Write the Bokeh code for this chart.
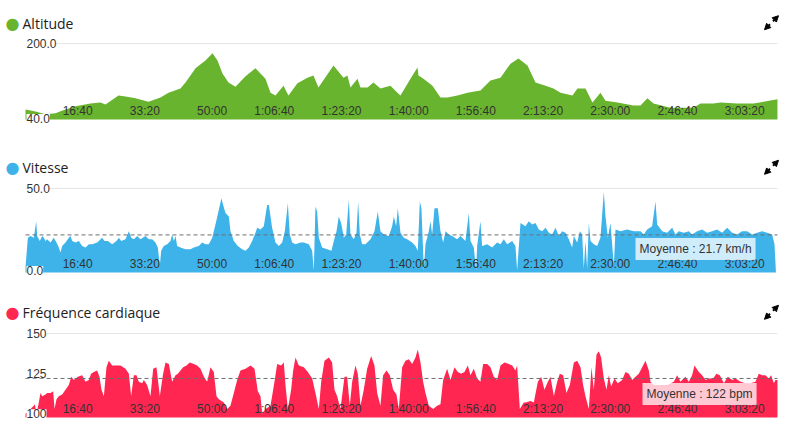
from bokeh.plotting import figure
from bokeh.models import Range1d, Label, LabelSet, ColumnDataSource, Arrow, NormalHead
from bokeh.layouts import column
from bokeh.embed import file_html
from bokeh.resources import INLINE
from bokeh.core.properties import value

# ---------------- data ----------------
T_END = 11190  # seconds
tick_seconds = [1000, 2000, 3000, 4000, 5000, 6000, 7000, 8000, 9000, 10000, 11000]
tick_labels = ["16:40", "33:20", "50:00", "1:06:40", "1:23:20", "1:40:00",
               "1:56:40", "2:13:20", "2:30:00", "2:46:40", "3:03:20"]

alt_t = [0, 149, 298, 446, 551, 744, 967, 1116, 1190, 1384,
         1488, 1637, 1830, 2009, 2128, 2306, 2381, 2530, 2678, 2783,
         2857, 2931, 3021, 3125, 3274, 3422, 3571, 3646, 3720, 3839,
         3913, 4047, 4196, 4285, 4360, 4583, 4732, 4791, 4836, 4940,
         4985, 5089, 5178, 5282, 5431, 5535, 5580, 5729, 5833, 5848,
         5922, 6056, 6175, 6279, 6428, 6577, 6770, 6919, 7068, 7217,
         7336, 7470, 7589, 7738, 7857, 7961, 8139, 8214, 8333, 8437,
         8556, 8630, 8809, 9047, 9151, 9255, 9345, 9598, 9940, 10044,
         10237, 10342, 10595, 10833, 11190]
alt_v = [59, 55, 49, 51, 57, 66, 72, 74, 70, 89,
         87, 83, 76, 85, 95, 104, 117, 147, 164, 179,
         164, 136, 117, 108, 130, 147, 125, 95, 89, 110,
         89, 115, 127, 132, 106, 153, 127, 132, 106, 125,
         106, 106, 117, 104, 110, 95, 89, 125, 149, 132,
         125, 110, 85, 85, 89, 95, 100, 121, 127, 157,
         168, 153, 117, 110, 104, 95, 89, 104, 104, 74,
         95, 78, 74, 68, 68, 83, 72, 63, 63, 72,
         72, 74, 72, 72, 81]
alt_ticks = [200, 40]
alt_tick_labels = ["200.0", "40.0"]

spd_t = [0, 35, 74, 124, 159, 174, 213, 248, 273, 298,
         322, 372, 421, 461, 496, 521, 546, 595, 645, 670,
         695, 744, 794, 843, 893, 943, 992, 1067, 1141, 1176,
         1225, 1290, 1354, 1389, 1424, 1488, 1538, 1573, 1612, 1662,
         1711, 1786, 1835, 1885, 1934, 1969, 1999, 2019, 2058, 2108,
         2158, 2182, 2207, 2232, 2257, 2306, 2381, 2455, 2505, 2579,
         2629, 2678, 2728, 2778, 2827, 2877, 2916, 2941, 2976, 3026,
         3050, 3100, 3159, 3224, 3274, 3323, 3373, 3422, 3447, 3497,
         3546, 3596, 3621, 3670, 3720, 3770, 3819, 3859, 3904, 3933,
         3968, 4018, 4092, 4142, 4216, 4266, 4290, 4315, 4340, 4365,
         4414, 4489, 4553, 4588, 4628, 4662, 4697, 4737, 4772, 4811,
         4836, 4886, 4925, 4950, 4975, 5010, 5059, 5134, 5193, 5243,
         5282, 5332, 5406, 5456, 5481, 5516, 5540, 5580, 5630, 5679,
         5754, 5803, 5838, 5868, 5892, 5917, 5927, 5952, 6002, 6026,
         6051, 6086, 6136, 6175, 6215, 6250, 6299, 6349, 6423, 6473,
         6547, 6597, 6622, 6671, 6706, 6721, 6770, 6795, 6870, 6944,
         7018, 7068, 7118, 7167, 7242, 7291, 7316, 7366, 7440, 7490,
         7540, 7589, 7639, 7688, 7738, 7788, 7837, 7887, 7936, 7986,
         8036, 8085, 8135, 8160, 8209, 8249, 8284, 8308, 8333, 8358,
         8383, 8408, 8457, 8507, 8556, 8606, 8631, 8666, 8705, 8730,
         8755, 8780, 8854, 8953, 9052, 9152, 9201, 9251, 9325, 9375,
         9400, 9474, 9548, 9623, 9672, 9722, 9796, 9871, 9920, 9995,
         10069, 10144, 10218, 10292, 10367, 10441, 10516, 10590, 10664, 10739,
         10813, 10888, 10962, 11036, 11111, 11146, 11166]
spd_v = [2, 20, 21, 20, 30, 21, 18, 21, 20, 18,
         19, 17, 20, 17, 14, 11, 15, 17, 20, 21,
         18, 17, 18, 15, 14, 16, 16, 17, 20, 18,
         18, 16, 18, 20, 18, 19, 24, 20, 19, 21,
         19, 21, 19, 19, 17, 14, 3, 12, 15, 16,
         18, 22, 18, 21, 15, 14, 13, 13, 14, 15,
         17, 16, 16, 20, 28, 37, 44, 40, 35, 33,
         24, 18, 15, 13, 12, 14, 18, 23, 26, 25,
         27, 40, 40, 26, 17, 15, 17, 24, 41, 22,
         17, 16, 17, 17, 16, 12, 0, 39, 36, 20,
         14, 13, 12, 18, 24, 33, 29, 20, 22, 43,
         22, 19, 23, 42, 22, 16, 16, 19, 24, 36,
         24, 22, 21, 27, 33, 27, 38, 23, 20, 19,
         17, 15, 12, 42, 38, 12, 0, 16, 24, 30,
         22, 38, 38, 24, 17, 24, 22, 21, 19, 21,
         18, 35, 18, 14, 0, 15, 30, 15, 16, 14,
         17, 16, 19, 16, 18, 15, 0, 29, 27, 30,
         28, 29, 25, 24, 26, 23, 22, 26, 21, 24,
         23, 19, 14, 21, 17, 24, 22, 1, 18, 1,
         29, 18, 16, 15, 20, 48, 33, 20, 29, 16,
         3, 25, 24, 25, 24, 24, 22, 25, 27, 42,
         28, 24, 23, 26, 22, 24, 23, 24, 22, 24,
         25, 23, 24, 25, 23, 26, 23, 22, 24, 24,
         22, 23, 24, 23, 22, 16, 0]
spd_ticks = [50, 0]
spd_tick_labels = ["50.0", "0.0"]
SPEED_MEAN = 21.7

hr_t = [0, 124, 139, 164, 198, 223, 248, 298, 322, 372,
        412, 432, 461, 496, 546, 595, 645, 680, 719, 779,
        843, 893, 942, 977, 1017, 1066, 1101, 1131, 1166, 1205,
        1240, 1290, 1339, 1414, 1488, 1538, 1572, 1612, 1652, 1686,
        1736, 1761, 1810, 1860, 1900, 1949, 1999, 2044, 2083, 2133,
        2182, 2232, 2267, 2306, 2346, 2396, 2445, 2505, 2554, 2604,
        2654, 2703, 2753, 2802, 2842, 2877, 2951, 3001, 3050, 3100,
        3150, 3199, 3274, 3348, 3408, 3457, 3497, 3522, 3571, 3646,
        3705, 3745, 3804, 3844, 3869, 3904, 3953, 3983, 4018, 4067,
        4142, 4201, 4266, 4315, 4365, 4400, 4449, 4514, 4563, 4598,
        4638, 4687, 4747, 4786, 4826, 4861, 4910, 4945, 4985, 5034,
        5084, 5144, 5193, 5233, 5282, 5322, 5372, 5421, 5471, 5520,
        5555, 5605, 5654, 5704, 5754, 5803, 5838, 5878, 5917, 5952,
        6002, 6066, 6126, 6175, 6215, 6274, 6324, 6384, 6433, 6483,
        6532, 6582, 6622, 6671, 6721, 6770, 6810, 6870, 6919, 6969,
        7018, 7068, 7128, 7192, 7242, 7291, 7316, 7356, 7415, 7440,
        7515, 7564, 7624, 7674, 7723, 7763, 7812, 7862, 7912, 7951,
        8001, 8050, 8100, 8160, 8209, 8259, 8298, 8333, 8383, 8422,
        8457, 8497, 8532, 8566, 8606, 8646, 8680, 8715, 8765, 8814,
        8879, 8928, 8978, 9028, 9077, 9127, 9176, 9226, 9276, 9300,
        9350, 9449, 9548, 9648, 9697, 9747, 9821, 9871, 9920, 9955,
        10020, 10069, 10119, 10168, 10233, 10282, 10332, 10392, 10451, 10516,
        10565, 10640, 10714, 10788, 10863, 10912, 10962, 11012, 11061, 11096,
        11136, 11161, 11190]
hr_v = [100, 105, 106, 100, 107, 113, 111, 112, 113, 113,
        114, 103, 109, 111, 112, 115, 118, 123, 121, 123,
        124, 120, 121, 125, 126, 127, 123, 115, 111, 129,
        133, 130, 130, 130, 128, 125, 111, 124, 124, 120,
        119, 121, 118, 111, 128, 129, 111, 124, 132, 131,
        120, 124, 125, 127, 129, 130, 132, 131, 130, 128,
        123, 120, 129, 126, 111, 109, 107, 103, 105, 113,
        121, 127, 128, 130, 128, 114, 111, 100, 103, 105,
        120, 131, 130, 132, 118, 103, 115, 127, 135, 130,
        129, 126, 122, 113, 103, 120, 133, 135, 132, 115,
        111, 103, 123, 123, 105, 120, 130, 125, 105, 115,
        128, 136, 130, 113, 105, 124, 127, 124, 115, 112,
        103, 129, 133, 134, 131, 135, 140, 132, 120, 113,
        105, 103, 105, 106, 121, 128, 121, 129, 126, 125,
        126, 130, 124, 128, 122, 120, 131, 131, 129, 123,
        121, 130, 132, 131, 130, 127, 130, 103, 107, 107,
        108, 107, 120, 123, 115, 119, 123, 111, 120, 125,
        124, 113, 118, 132, 133, 129, 118, 111, 103, 129,
        115, 137, 139, 135, 122, 115, 124, 117, 122, 119,
        121, 126, 125, 121, 123, 125, 129, 133, 127, 120,
        118, 118, 118, 120, 124, 120, 123, 120, 124, 130,
        126, 124, 121, 122, 122, 125, 124, 119, 123, 121,
        122, 120, 119, 119, 120, 125, 124, 124, 122, 124,
        119, 121, 121]
hr_ticks = [150, 125, 100]
hr_tick_labels = ["150", "125", "100"]
HR_MEAN = 122

GREEN = "#69b42e"
BLUE = "#3db3ea"
RED = "#ff2651"
TEXT = "#333333"

# ---------------- layout constants (window pixels) ----------------
W = 785
X_ZERO = 25          # window x of t = 0
PX_PER_S = 0.0672    # horizontal scale
ICON_X = 771


def panel(title, color, t, v, yticks, ylabels, H, y0, w_top, w_bot, w_floor,
          title_wy, tick_wy, mean=None, mean_text=None, box_wx=None, box_wy=None):
    v_top, v_bot = yticks[0], yticks[-1]
    scale = (v_top - v_bot) / (w_bot - w_top)          # units per px
    y_end = v_top + (w_top - y0) * scale
    y_start = v_bot - (y0 + H - w_bot) * scale
    floor = v_bot - (w_floor - w_bot) * scale
    x_start = -X_ZERO / PX_PER_S
    x_end = (W - X_ZERO) / PX_PER_S

    def sy(wy):  # window y -> screen units (from bottom of frame)
        return y0 + H - wy

    p = figure(width=W, height=H, x_range=Range1d(x_start, x_end),
               y_range=Range1d(y_start, y_end), output_backend="svg",
               toolbar_location=None, x_axis_location=None, y_axis_location=None,
               title=None, min_border=0, min_border_left=0, min_border_right=0,
               min_border_top=0, min_border_bottom=0,
               outline_line_color=None, background_fill_color="white",
               border_fill_color="white")
    p.grid.visible = False
    # top grid line
    p.segment(x0=0, y0=v_top, x1=T_END, y1=v_top, line_color="#e6e6e6", line_width=1)
    # area
    p.varea(x=t, y1=floor, y2=v, fill_color=color, fill_alpha=1.0)
    # mean line
    if mean is not None:
        p.segment(x0=0, y0=mean, x1=T_END, y1=mean, line_color="#6e6e6e",
                  line_width=1, line_dash="4 3")
    # x tick labels
    xsrc = ColumnDataSource(dict(t=tick_seconds, label=tick_labels))
    p.add_layout(LabelSet(x="t", y=sy(tick_wy), y_units="screen", text="label", source=xsrc,
                          text_align="right", text_baseline="middle",
                          text_font=value("Liberation Sans"), text_font_size="12px",
                          text_color=TEXT))
    # y tick labels
    ysrc = ColumnDataSource(dict(y=yticks, label=ylabels))
    p.add_layout(LabelSet(x=0, y="y", x_offset=1, text="label", source=ysrc,
                          text_align="left", text_baseline="middle",
                          text_font=value("Liberation Sans"), text_font_size="12px",
                          text_color=TEXT, background_fill_color="white"))
    if mean is not None:
        p.add_layout(Label(x=box_wx, y=sy(box_wy), x_units="screen", y_units="screen",
                           text=mean_text, text_font="Liberation Sans",
                           text_font_size="12px", text_color=TEXT,
                           text_align="left", text_baseline="middle",
                           background_fill_color="white", background_fill_alpha=0.75,
                           padding=4))
    # title dot + title
    p.add_layout(Label(x=12, y=sy(title_wy), x_units="screen", y_units="screen", text="\u25cf",
                       text_font="DejaVu Sans", text_font_size="16px", text_color=color,
                       text_align="center", text_baseline="middle"))
    p.add_layout(Label(x=22, y=sy(title_wy), x_units="screen", y_units="screen", text=title,
                       text_font="Open Sans", text_font_size="14px", text_color="#222222",
                       text_align="left", text_baseline="middle"))
    # expand icon: two small arrows pointing NE and SW
    cy = title_wy - 0.5
    for dx in (1, -1):
        p.add_layout(Arrow(x_start=ICON_X + 1.5 * dx, y_start=sy(cy - 1.5 * dx),
                           x_end=ICON_X + 7 * dx, y_end=sy(cy - 7 * dx),
                           start_units="screen", end_units="screen",
                           line_color="black", line_width=2,
                           end=NormalHead(size=6, fill_color="black", line_color="black",
                                          line_width=1)))
    return p


p1 = panel("Altitude", GREEN, alt_t, alt_v, alt_ticks, alt_tick_labels,
           H=140, y0=0, w_top=43, w_bot=118, w_floor=119, title_wy=22.7, tick_wy=110)
p2 = panel("Vitesse", BLUE, spd_t, spd_v, spd_ticks, spd_tick_labels,
           H=145, y0=140, w_top=188, w_bot=270, w_floor=272, title_wy=167.3, tick_wy=263.3,
           mean=SPEED_MEAN, mean_text="Moyenne : 21.7 km/h", box_wx=635, box_wy=248.5)
p3 = panel("Fréquence cardiaque", RED, hr_t, hr_v, hr_ticks, hr_tick_labels,
           H=155, y0=285, w_top=333, w_bot=413.3, w_floor=417, title_wy=312.3, tick_wy=408.3,
           mean=HR_MEAN, mean_text="Moyenne : 122 bpm", box_wx=642, box_wy=393.5)

layout = column(p1, p2, p3, spacing=0)
open("out.html", "w").write(file_html(layout, INLINE))
